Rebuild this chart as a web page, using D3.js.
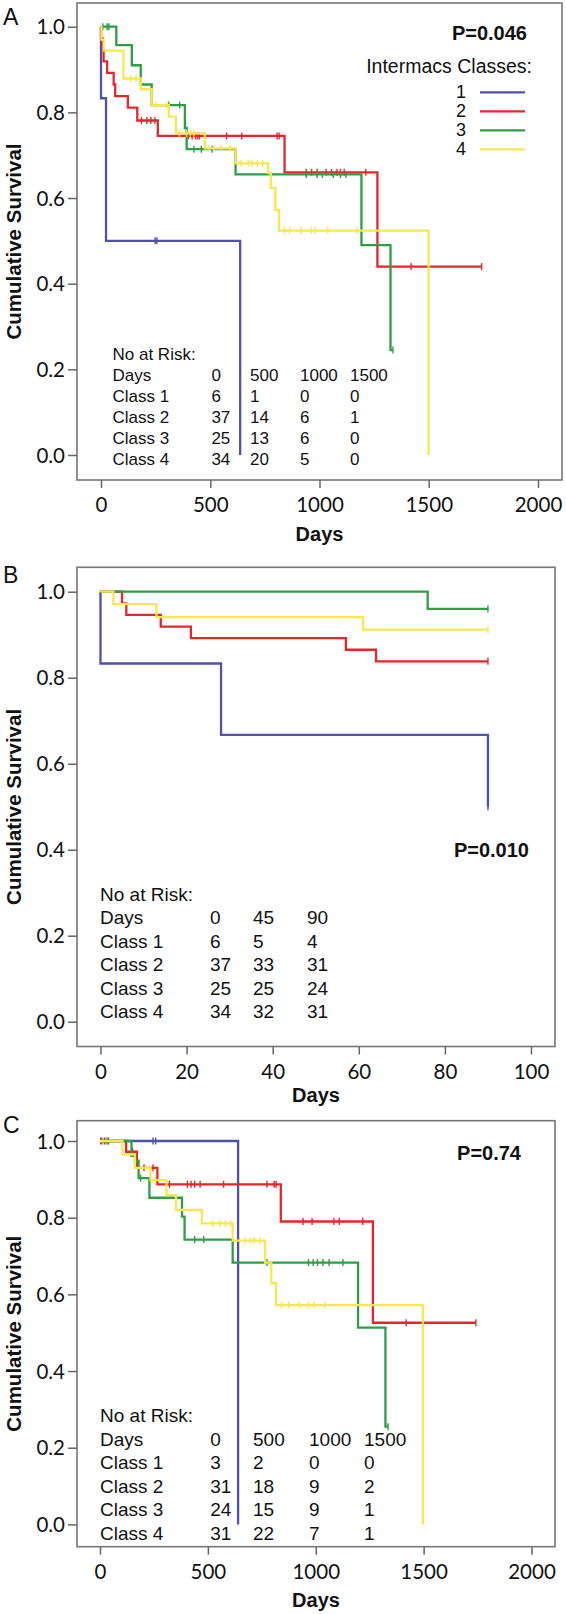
<!DOCTYPE html>
<html><head><meta charset="utf-8">
<script src="https://cdn.jsdelivr.net/npm/d3@7"></script>
<style>body{margin:0;background:#fff} svg{display:block}</style>
</head><body>
<script>
// ---------------- data ----------------
const classNames = ["1", "2", "3", "4"];
const classColors = ["#5151a7", "#e5262d", "#2e9e45", "#f8e74f"];
const yTickValues = [0, 0.2, 0.4, 0.6, 0.8, 1.0];
const aXTicks = [0, 500, 1000, 1500, 2000];
const bXTicks = [0, 20, 40, 60, 80, 100];
const cXTicks = [0, 500, 1000, 1500, 2000];
const pValues = ["P=0.046", "P=0.010", "P=0.74"];
const legendTitle = "Intermacs Classes:";

// Panel A: steps [day, survival] and censor days
const aC1Steps = [[0, 0.833], [23, 0.5], [637, 0]];
const aC1Cens = [248, 256];
const aC2Steps = [[0, 0.973], [7, 0.946], [12, 0.919], [28, 0.892], [58, 0.865], [65, 0.838], [123, 0.811], [166, 0.781], [260, 0.745], [840, 0.66], [1265, 0.44]];
const aC2Cens = [185, 210, 228, 247, 400, 417, 433, 442, 450, 575, 644, 806, 815, 939, 964, 989, 1030, 1055, 1080, 1096, 1113, 1212, 1419, 1742];
const aC3Steps = [[70, 0.957], [141, 0.91], [182, 0.865], [232, 0.817], [384, 0.764], [392, 0.714], [616, 0.655], [1192, 0.49], [1325, 0.245]];
const aC3Cens = [8, 28, 36, 310, 360, 425, 459, 508, 939, 989, 1013, 1063, 1096, 1121, 1336];
const aC4Steps = [[2, 0.97], [12, 0.944], [103, 0.879], [182, 0.854], [232, 0.817], [310, 0.79], [343, 0.751], [475, 0.716], [616, 0.681], [765, 0.658], [777, 0.623], [798, 0.572], [815, 0.524], [1499, 0]];
const aC4Cens = [136, 161, 250, 300, 359, 392, 409, 425, 492, 517, 550, 591, 641, 674, 691, 715, 740, 840, 864, 914, 963, 980, 1038, 1171];

// Panel B
const bC1Steps = [[0, 0.833], [28, 0.667], [90, 0.5]];
const bC1Cens = [90];
const bC2Steps = [[5, 0.973], [6, 0.946], [14, 0.919], [21, 0.892], [57, 0.865], [64, 0.838]];
const bC2Cens = [90];
const bC3Steps = [[76, 0.96]];
const bC3Cens = [90];
const bC4Steps = [[3, 0.971], [13, 0.941], [61, 0.912]];
const bC4Cens = [90];

// Panel C
const cC1Steps = [[640, 0]];
const cC1Cens = [246, 258];
const cC2Steps = [[121, 0.972], [171, 0.93], [266, 0.887], [838, 0.79], [1265, 0.526]];
const cC2Cens = [3, 20, 37, 151, 204, 246, 322, 405, 422, 439, 464, 573, 774, 807, 816, 941, 983, 1084, 1109, 1218, 1419, 1742];
const cC3Steps = [[146, 0.961], [162, 0.949], [179, 0.903], [229, 0.852], [380, 0.803], [392, 0.743], [615, 0.683], [1196, 0.513], [1323, 0.255]];
const cC3Cens = [8, 28, 40, 188, 439, 481, 774, 966, 988, 1008, 1033, 1062, 1126, 1335];
const cC4Steps = [[104, 0.965], [162, 0.93], [234, 0.898], [308, 0.859], [352, 0.82], [472, 0.785], [615, 0.74], [765, 0.683], [794, 0.629], [816, 0.572], [1497, 0]];
const cC4Cens = [255, 522, 556, 581, 606, 673, 698, 715, 740, 841, 874, 925, 966, 992, 1042];

// Risk tables
const riskRowLabels = ["Class 1", "Class 2", "Class 3", "Class 4"];
const aRiskDays = ["0", "500", "1000", "1500"];
const aRiskC1 = [6, 1, 0, 0];
const aRiskC2 = [37, 14, 6, 1];
const aRiskC3 = [25, 13, 6, 0];
const aRiskC4 = [34, 20, 5, 0];
const bRiskDays = ["0", "45", "90"];
const bRiskC1 = [6, 5, 4];
const bRiskC2 = [37, 33, 31];
const bRiskC3 = [25, 25, 24];
const bRiskC4 = [34, 32, 31];
const cRiskDays = ["0", "500", "1000", "1500"];
const cRiskC1 = [3, 2, 0, 0];
const cRiskC2 = [31, 18, 9, 2];
const cRiskC3 = [24, 15, 9, 1];
const cRiskC4 = [31, 22, 7, 1];

// ---------------- drawing ----------------
const W = 566, H = 1614;
const svg = d3.select("body").append("svg").attr("width", W).attr("height", H)
  .style("background", "#fff");

const tickFont = "Lato, 'Open Sans', sans-serif";
const textFont = "'Liberation Sans', Arial, sans-serif";

const panels = [
  {
    letter: "A", letterY: 25,
    box: [77, 3, 562, 480],
    xDom: [0, 2000], xRng: [101, 538], xTicks: aXTicks,
    yRng: [455, 26.7],
    curves: [[aC1Steps, aC1Cens], [aC2Steps, aC2Cens], [aC3Steps, aC3Cens], [aC4Steps, aC4Cens]],
    pv: pValues[0], pvX: 527, pvY: 40,
    risk: { days: aRiskDays, rows: [aRiskC1, aRiskC2, aRiskC3, aRiskC4], cols: [112.5, 211.4, 250, 300, 350], y0: 359.5, dy: 21, fs: 17 },
    legend: true, daysY: 541
  },
  {
    letter: "B", letterY: 583,
    box: [77, 567.3, 555, 1046.5],
    xDom: [0, 100], xRng: [100.5, 531], xTicks: bXTicks,
    yRng: [1021.7, 591.7],
    curves: [[bC1Steps, bC1Cens], [bC2Steps, bC2Cens], [bC3Steps, bC3Cens], [bC4Steps, bC4Cens]],
    pv: pValues[1], pvX: 529, pvY: 857,
    risk: { days: bRiskDays, rows: [bRiskC1, bRiskC2, bRiskC3, bRiskC4], cols: [100, 210, 253, 307], y0: 901, dy: 23.4, fs: 19 },
    legend: false, daysY: 1102
  },
  {
    letter: "C", letterY: 1133,
    box: [77, 1120.7, 555, 1546.7],
    xDom: [0, 2000], xRng: [100, 531.5], xTicks: cXTicks,
    yRng: [1524.4, 1141],
    curves: [[cC1Steps, cC1Cens], [cC2Steps, cC2Cens], [cC3Steps, cC3Cens], [cC4Steps, cC4Cens]],
    pv: pValues[2], pvX: 521, pvY: 1159.5,
    risk: { days: cRiskDays, rows: [cRiskC1, cRiskC2, cRiskC3, cRiskC4], cols: [100, 210.3, 253, 309, 364], y0: 1422, dy: 23.5, fs: 19 },
    legend: false, daysY: 1607
  }
];

function survAt(steps, t) {
  let s = 1;
  for (const [tt, v] of steps) { if (tt <= t) s = v; }
  return s;
}

panels.forEach(p => {
  const g = svg.append("g");
  const [bx0, by0, bx1, by1] = p.box;
  const x = d3.scaleLinear().domain(p.xDom).range(p.xRng);
  const y = d3.scaleLinear().domain([0, 1]).range(p.yRng);

  // panel letter
  g.append("text").attr("x", 3).attr("y", p.letterY).text(p.letter)
    .attr("font-family", textFont).attr("font-size", 23).attr("fill", "#111");

  // risk table (behind curves)
  const rt = p.risk;
  const tg = g.append("g").attr("font-family", textFont).attr("font-size", rt.fs).attr("fill", "#111");
  tg.append("text").attr("x", rt.cols[0]).attr("y", rt.y0).text("No at Risk:");
  tg.append("text").attr("x", rt.cols[0]).attr("y", rt.y0 + rt.dy).text("Days");
  rt.days.forEach((d, i) => tg.append("text").attr("x", rt.cols[i + 1]).attr("y", rt.y0 + rt.dy).text(d));
  rt.rows.forEach((row, r) => {
    const yy = rt.y0 + rt.dy * (r + 2);
    tg.append("text").attr("x", rt.cols[0]).attr("y", yy).text(riskRowLabels[r]);
    row.forEach((v, i) => tg.append("text").attr("x", rt.cols[i + 1]).attr("y", yy).text(v));
  });

  // curves
  const line = d3.line().x(d => x(d[0])).y(d => y(d[1])).curve(d3.curveStepAfter);
  p.curves.forEach(([steps, cens], ci) => {
    const last = steps[steps.length - 1];
    const end = Math.max(last[0], d3.max(cens) || 0);
    const pts = [[0, 1], ...steps, [end, last[1]]];
    g.append("path").attr("d", line(pts)).attr("fill", "none")
      .attr("stroke", classColors[ci]).attr("stroke-width", 2.3)
      .attr("stroke-linejoin", "miter").attr("stroke-linecap", "butt");
    g.selectAll(null).data(cens).enter().append("line")
      .attr("x1", d => x(d)).attr("x2", d => x(d))
      .attr("y1", d => y(survAt(steps, d)) - 3.5).attr("y2", d => y(survAt(steps, d)) + 3.5)
      .attr("stroke", classColors[ci]).attr("stroke-width", 1.4);
  });

  // box
  g.append("rect").attr("x", bx0).attr("y", by0).attr("width", bx1 - bx0).attr("height", by1 - by0)
    .attr("fill", "none").attr("stroke", "#767676").attr("stroke-width", 1.6);

  // axes
  const ax = g.append("g").attr("transform", `translate(0,${by1})`)
    .call(d3.axisBottom(x).tickValues(p.xTicks).tickSize(8).tickFormat(d3.format("d")));
  ax.select(".domain").remove();
  ax.selectAll(".tick line").attr("stroke", "#666").attr("stroke-width", 1.5);
  ax.selectAll(".tick text").attr("y", 25).attr("dy", "0.35em")
    .attr("font-family", tickFont).attr("font-size", 20.5).attr("fill", "#111");

  const ay = g.append("g").attr("transform", `translate(${bx0},0)`)
    .call(d3.axisLeft(y).tickValues(yTickValues).tickSize(9).tickFormat(d3.format(".1f")));
  ay.select(".domain").remove();
  ay.selectAll(".tick line").attr("stroke", "#666").attr("stroke-width", 1.5);
  ay.selectAll(".tick text").attr("x", -12).attr("dy", "0.35em")
    .attr("font-family", tickFont).attr("font-size", 20.5).attr("fill", "#111");

  // axis titles
  g.append("text").attr("transform", `translate(21,${(by0 + by1) / 2}) rotate(-90)`)
    .attr("text-anchor", "middle").attr("font-family", textFont).attr("font-weight", "bold")
    .attr("font-size", 20.5).attr("fill", "#111").text("Cumulative Survival");
  g.append("text").attr("x", (bx0 + bx1) / 2).attr("y", p.daysY)
    .attr("text-anchor", "middle").attr("font-family", textFont).attr("font-weight", "bold")
    .attr("font-size", 20).attr("fill", "#111").text("Days");

  // p value
  g.append("text").attr("x", p.pvX).attr("y", p.pvY).attr("text-anchor", "end")
    .attr("font-family", textFont).attr("font-weight", "bold").attr("font-size", 20)
    .attr("fill", "#111").text(p.pv);

  // legend
  if (p.legend) {
    const lg = g.append("g").attr("font-family", textFont).attr("fill", "#111");
    lg.append("text").attr("x", 532).attr("y", 72.5).attr("text-anchor", "end")
      .attr("font-size", 19.5).text(legendTitle);
    classNames.forEach((c, i) => {
      const ly = 92.3 + i * 19;
      lg.append("text").attr("x", 466).attr("y", ly + 6).attr("text-anchor", "end")
        .attr("font-size", 18).text(c);
      lg.append("line").attr("x1", 480).attr("x2", 525).attr("y1", ly).attr("y2", ly)
        .attr("stroke", classColors[i]).attr("stroke-width", 2.3);
    });
  }
});
</script>
</body></html>
